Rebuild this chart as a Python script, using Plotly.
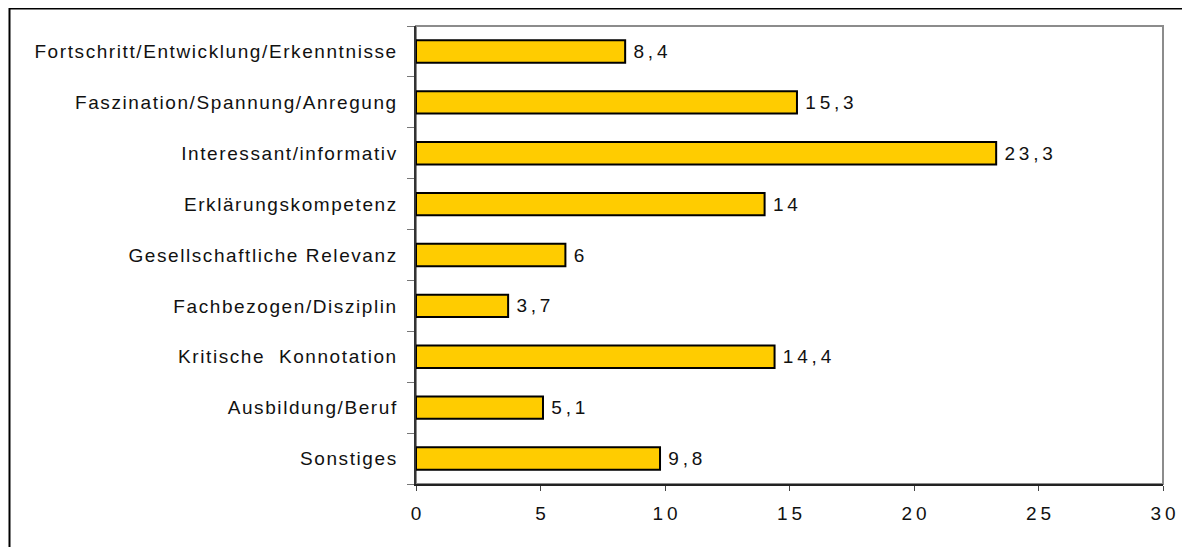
import plotly.graph_objects as go

categories = [
    "Fortschritt/Entwicklung/Erkenntnisse",
    "Faszination/Spannung/Anregung",
    "Interessant/informativ",
    "Erklärungskompetenz",
    "Gesellschaftliche Relevanz",
    "Fachbezogen/Disziplin",
    "Kritische  Konnotation",
    "Ausbildung/Beruf",
    "Sonstiges",
]
values = [8.4, 15.3, 23.3, 14, 6, 3.7, 14.4, 5.1, 9.8]
x_ticks = [0, 5, 10, 15, 20, 25, 30]

thin = "\u2009"
hair = "\u200A"

def spaced(s, sep):
    return sep.join(list(s))

value_text = [" " + spaced(f"{v:g}".replace(".", ","), thin) for v in values]
x_tick_text = [spaced(str(t), thin) for t in x_ticks]
cat_text = [spaced(c, hair) for c in categories]

FONT = "Liberation Sans, Arial, sans-serif"
FS = 19

fig = go.Figure()
fig.add_trace(go.Bar(
    x=values,
    y=categories,
    orientation="h",
    marker=dict(color="#FFCC00", line=dict(color="black", width=2)),
    text=value_text,
    textposition="outside",
    textfont=dict(family=FONT, size=FS, color="#111"),
    cliponaxis=False,
    width=0.44,
))

# page body has an 8px margin; figure is sized/positioned to compensate
OFF = 8
W, H = 1190 - OFF, 547 - OFF
L, T = 416 - OFF, 26 - OFF
pw, ph = 747, 458
R, B = W - L - pw, H - T - ph

# outer frame (left/top visible)
fig.add_shape(type="rect", xref="paper", yref="paper",
              x0=(1.5 - L) / pw, x1=(W + 20 - L) / pw,
              y0=-(H + 20 - T - ph) / ph, y1=1 + (T - 0.5) / ph,
              line=dict(color="black", width=2), layer="below")
# plot area border (grey)
fig.add_shape(type="rect", xref="paper", yref="paper",
              x0=0, x1=1, y0=0, y1=1,
              line=dict(color="#8c8c8c", width=2), layer="below")

fig.update_layout(
    width=W, height=H,
    margin=dict(l=L, r=R, t=T, b=B, autoexpand=False),
    paper_bgcolor="white", plot_bgcolor="white",
    showlegend=False,
    font=dict(family=FONT, size=FS, color="#111"),
    xaxis=dict(
        range=[0, 30],
        tickvals=x_ticks, ticktext=x_tick_text,
        showgrid=False, zeroline=False,
        showline=True, linecolor="#222", linewidth=2,
        ticks="outside", ticklen=5, tickcolor="#444", tickwidth=1,
        tickfont=dict(size=FS),
        automargin=False,
        ticklabelstandoff=6,
    ),
    yaxis=dict(
        categoryorder="array", categoryarray=categories,
        tickvals=categories, ticktext=cat_text,
        autorange="reversed",
        showgrid=False, zeroline=False,
        showline=True, linecolor="#333", linewidth=2,
        ticks="outside", ticklen=7, tickcolor="#777", tickwidth=1,
        tickson="boundaries",
        tickfont=dict(size=FS),
        automargin=False,
        ticklabelstandoff=14,
    ),
)

fig.write_html("out.html")
